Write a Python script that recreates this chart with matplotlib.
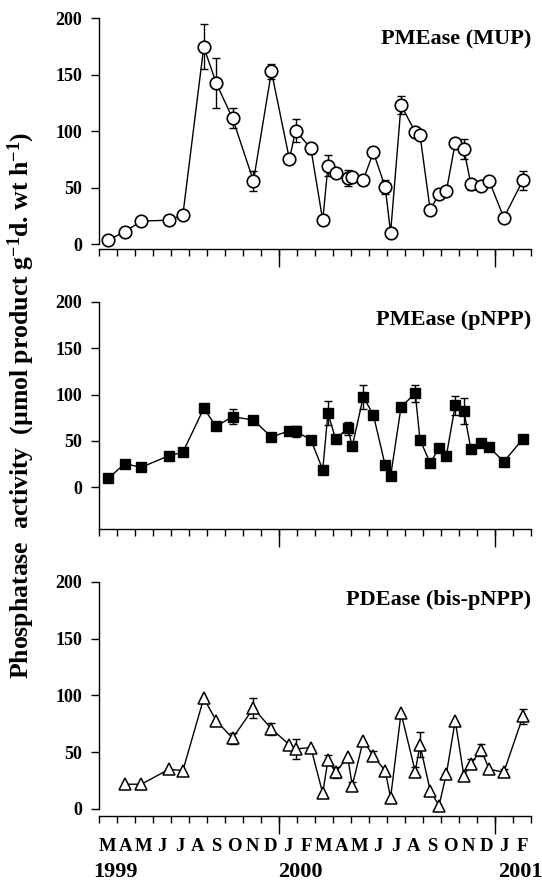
import numpy as np
import matplotlib
matplotlib.use("Agg")
import matplotlib.pyplot as plt

plt.rcParams['font.family'] = ['Liberation Serif', 'DejaVu Serif']
plt.rcParams['font.weight'] = 'bold'
plt.rcParams['mathtext.fontset'] = 'custom'
plt.rcParams['mathtext.rm'] = 'Liberation Serif:bold'
plt.rcParams['mathtext.bf'] = 'Liberation Serif:bold'
plt.rcParams['mathtext.default'] = 'bf'

# sampling times, in months since 1 March 1999
t = [0.52, 1.43, 2.35, 3.89, 4.66, 5.82, 6.51, 7.42, 8.58, 9.58,
     10.58, 10.92, 11.77, 12.43, 12.72, 13.14, 13.82, 14.07, 14.68, 15.24,
     15.9, 16.2, 16.78, 17.57, 17.83, 18.4, 18.89, 19.3, 19.79, 20.27,
     20.66, 21.23, 21.68, 22.49, 23.55]

# PMEase (MUP)
mup = [3.5, 10.9, 20.3, 21.1, 25.8, 174.5, 142.4, 111.3, 55.8, 152.7,
       74.9, 100.4, 84.6, 20.9, 69.3, 63.1, 58.4, 59.3, 56.4, 81.3,
       50.5, 10, 123, 99, 96.9, 30, 44.6, 47, 89.3, 84,
       52.9, 51.4, 55.8, 23.2, 56.4]
mup_err = [0, 0, 0, 0, 0, 20, 22, 9, 9, 7,
           0, 10, 5, 0, 9.5, 0, 7, 0, 4, 0,
           6, 0, 8, 4, 0, 0, 0, 0, 0, 8.5,
           5, 0, 0, 0, 8.5]

# PMEase (pNPP)
pnpp = [9.4, 25.2, 21.3, 33.9, 37.5, 85, 65.6, 76, 72.4, 54,
        60.9, 60.2, 51.2, 18.7, 80, 51.9, 63.4, 44, 97.3, 78.2,
        23.4, 11.5, 86.5, 101.3, 51.2, 25.9, 42.2, 33.9, 88.3, 82.5,
        41.1, 47.6, 42.9, 27.4, 51.9]
pnpp_err = [0, 0, 0, 0, 0, 0, 0, 8, 0, 4,
            3, 6, 0, 0, 12.6, 0, 7, 0, 12.5, 0,
            0, 0, 0, 9, 0, 0, 0, 0, 10, 14,
            0, 0, 0, 0, 0]

# PDEase (bis-pNPP), no sample at the first date
bis = [21.8, 21.8, 35, 33.8, 97.6, 77.9, 62.3, 88.8, 70.6, 56.5,
       52.9, 54.1, 13.8, 43.2, 32.4, 45.6, 20.6, 60.3, 46.8, 33.5,
       10, 84.4, 32.9, 56.5, 16.2, 2.9, 30.9, 77.9, 29.4, 39.7,
       52, 35, 32.4, 81.5]
bis_err = [0, 0, 0, 0, 0, 0, 5, 8.7, 5, 0,
           8.7, 0, 0, 4, 5, 0, 3, 0, 4, 0,
           0, 0, 4, 11, 0, 0, 0, 0, 0, 4,
           5, 0, 3, 6.6]

months = ['M', 'A', 'M', 'J', 'J', 'A', 'S', 'O', 'N', 'D', 'J', 'F',
          'M', 'A', 'M', 'J', 'J', 'A', 'S', 'O', 'N', 'D', 'J', 'F']
years = ['1999', '2000', '2001']

W, H = 542, 882
fig = plt.figure(figsize=(W / 100, H / 100), dpi=100)


def make_axes(top_px, bottom_px, ymin):
    ax = fig.add_axes([99 / W, 1 - bottom_px / H, 432 / W, (bottom_px - top_px) / H])
    ax.set_xlim(0, 24)
    ax.set_ylim(ymin, 200)
    for s in ['top', 'right']:
        ax.spines[s].set_visible(False)
    for s in ['left', 'bottom']:
        ax.spines[s].set_linewidth(1.0)
    ax.set_yticks([0, 50, 100, 150, 200])
    ax.set_xticks(np.arange(0, 25))
    ax.set_xticklabels([])
    ax.tick_params(axis='y', direction='out', length=6, width=1, pad=6, labelsize=13)
    ax.tick_params(axis='x', which='major', direction='out', length=5, width=1)
    # long ticks at each January
    sec = ax.secondary_xaxis('bottom')
    sec.spines['bottom'].set_visible(False)
    sec.set_xticks([10, 22])
    sec.tick_params(length=13, width=1, labelbottom=False)
    return ax


def draw(ax, x, y, err, **kw):
    x, y, err = np.array(x), np.array(y), np.array(err)
    m = err > 0
    ax.errorbar(x[m], y[m], yerr=err[m], fmt='none', ecolor='black',
                elinewidth=1, capsize=3.2, capthick=1, zorder=2)
    ax.plot(x, y, '-', color='black', lw=1, zorder=3, **kw)


ax1 = make_axes(18, 249, -4.4)
ax1.spines['left'].set_bounds(0, 200)
draw(ax1, t, mup, mup_err, marker='o', ms=9, mfc='white', mec='black', mew=1.2)
ax1.text(24, 181, 'PMEase (MUP)', ha='right', va='center', fontsize=16)

ax2 = make_axes(302, 529, -45.4)
draw(ax2, t, pnpp, pnpp_err, marker='s', ms=6.8, mfc='black', mec='black')
ax2.text(24, 181, 'PMEase (pNPP)', ha='right', va='center', fontsize=16)

ax3 = make_axes(582, 816, -6.2)
ax3.spines['left'].set_bounds(0, 200)
draw(ax3, t[1:], bis, bis_err, marker='^', ms=9, mfc='white', mec='black', mew=1.1)
ax3.text(24, 184, 'PDEase (bis-pNPP)', ha='right', va='center', fontsize=16)

ax3.set_xticks(np.arange(24) + 0.5, minor=True)
ax3.set_xticklabels(months, minor=True)
ax3.tick_params(axis='x', which='minor', length=0, pad=16, labelsize=13.5)
for pos, yr in zip([0.94, 11.2, 23.4], years):
    ax3.text(pos, -0.24, yr, transform=ax3.get_xaxis_transform(),
             ha='center', va='center', fontsize=16)

fig.text(0.04, 1 - 405 / H, 'Phosphatase  activity  (µmol product g$^{-1}$d. wt h$^{-1}$)',
         rotation=90, ha='center', va='center', fontsize=18.5)

fig.savefig('out.png', dpi=100)
